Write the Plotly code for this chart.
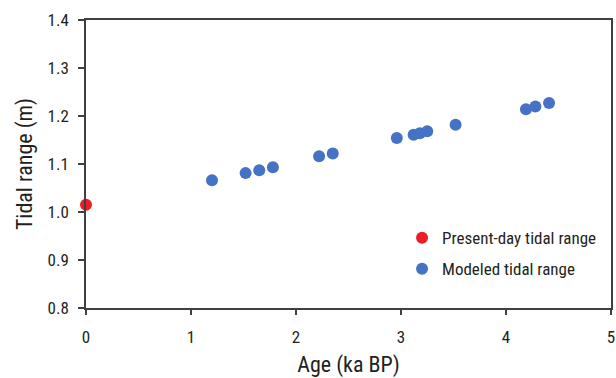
import plotly.graph_objects as go

# Present-day observation
present_age = [0.0]
present_range = [1.015]

# Modeled tidal range through the late Holocene
model_age = [1.20, 1.52, 1.65, 1.78, 2.22, 2.35, 2.96, 3.12, 3.18, 3.25, 3.52, 4.19, 4.28, 4.41]
model_range = [1.066, 1.081, 1.087, 1.093, 1.116, 1.122, 1.154, 1.161, 1.164, 1.168, 1.182, 1.214, 1.220, 1.227]

x_ticks = [0, 1, 2, 3, 4, 5]
y_ticks = [0.8, 0.9, 1.0, 1.1, 1.2, 1.3, 1.4]
y_labels = ["0.8", "0.9", "1.0", "1.1", "1.2", "1.3", "1.4"]

FONT = "Roboto Condensed, Liberation Sans Narrow, sans-serif"
AXIS = "#404040"
TEXT = "#231F20"

fig = go.Figure()
fig.add_trace(go.Scatter(
    x=present_age, y=present_range, mode="markers",
    name="Present-day tidal range", legendgroup="present",
    marker=dict(color="#EE1C25", size=12),
    cliponaxis=False,
))
fig.add_trace(go.Scatter(
    x=model_age, y=model_range, mode="markers",
    name="Modeled tidal range", legendgroup="model",
    marker=dict(color="#4472C4", size=12),
    cliponaxis=False,
))

fig.update_layout(
    width=616, height=378,
    margin=dict(l=86, r=5, t=20, b=70),
    paper_bgcolor="white", plot_bgcolor="white",
    font=dict(family=FONT, size=17, color=TEXT),
    showlegend=True,
    legend=dict(
        x=0.602, y=0.305, xanchor="left", yanchor="top",
        bgcolor="rgba(0,0,0,0)", font=dict(size=17, color=TEXT),
        itemsizing="constant", tracegroupgap=6,
    ),
    xaxis=dict(
        range=[0, 5], tickvals=x_ticks, ticktext=[str(t) for t in x_ticks],
        showgrid=False, zeroline=False, automargin=False,
        showline=True, linecolor=AXIS, linewidth=1.5, mirror=True,
        ticks="outside", ticklen=5, tickcolor=AXIS, tickwidth=1.5,
        ticklabelstandoff=8,
        tickfont=dict(size=17),
        title=dict(text="Age (ka BP)", font=dict(size=22), standoff=18),
    ),
    yaxis=dict(
        range=[0.8, 1.4], tickvals=y_ticks, ticktext=y_labels,
        showgrid=False, zeroline=False, automargin=False,
        showline=True, linecolor=AXIS, linewidth=1.5, mirror=True,
        ticks="outside", ticklen=6, tickcolor=AXIS, tickwidth=1.5,
        ticklabelstandoff=6,
        tickfont=dict(size=17),
        title=dict(text="Tidal range (m)", font=dict(size=22), standoff=9),
    ),
)

fig.write_html("out.html")
